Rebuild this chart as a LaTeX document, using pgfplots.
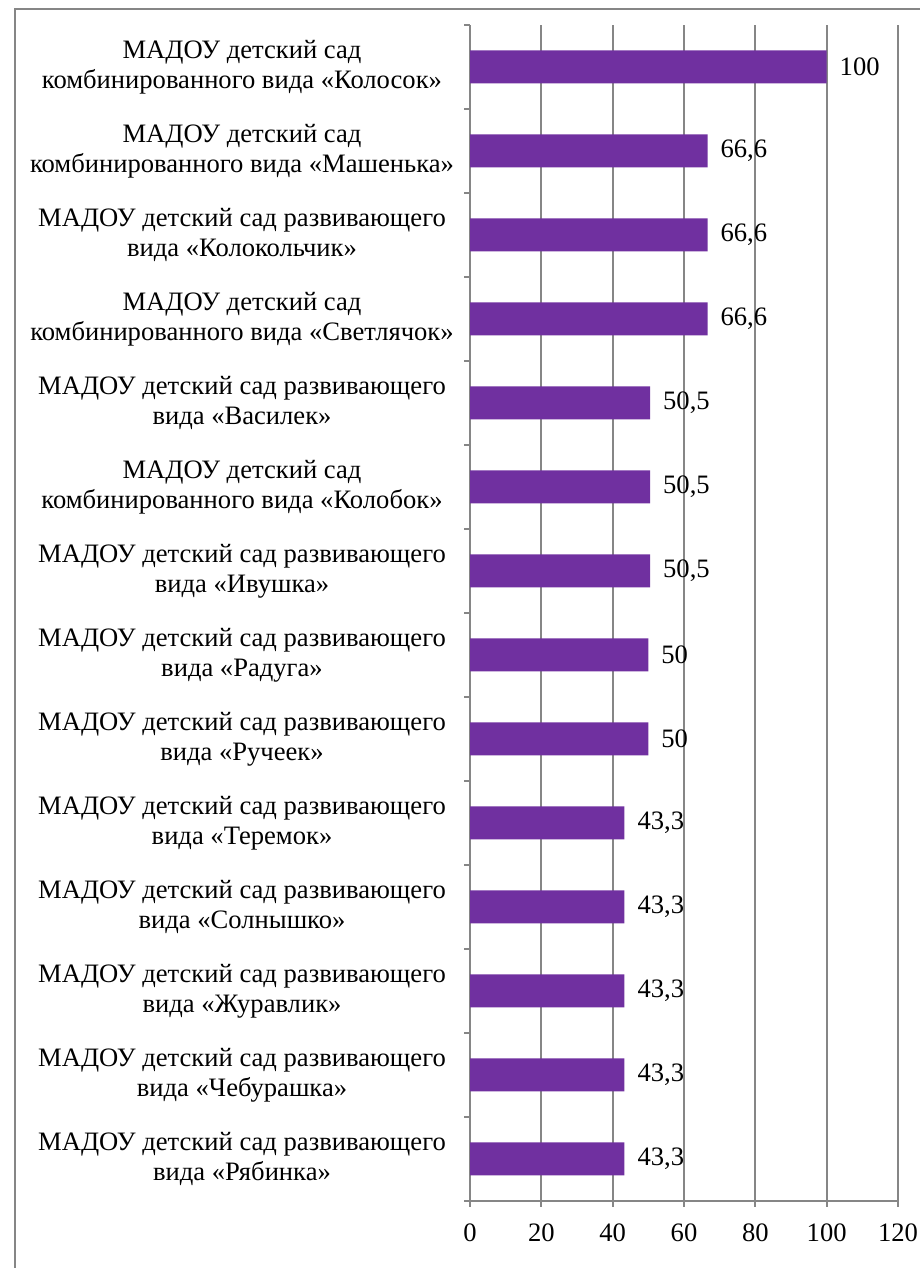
\documentclass[border=0pt]{standalone}
\usepackage{fontspec}
\setmainfont{Liberation Serif}
\usepackage{pgfplots}
\usepackage{pgfplotstable}
\pgfplotsset{compat=1.18}
\definecolor{barpurple}{HTML}{7030A0}
\definecolor{gridgray}{HTML}{868686}
\pgfplotstableread{
y x lab
0 43.3 43,3
1 43.3 43,3
2 43.3 43,3
3 43.3 43,3
4 43.3 43,3
5 50 50
6 50 50
7 50.5 50,5
8 50.5 50,5
9 50.5 50,5
10 66.6 66,6
11 66.6 66,6
12 66.6 66,6
13 100 100
}\datatable
\begin{document}
\begin{tikzpicture}
\useasboundingbox (0,0) rectangle (460pt,634pt);
\draw[gridgray, line width=0.9pt] (7.5pt,0) -- (7.5pt,629.5pt) -- (460pt,629.5pt);
\begin{axis}[
  at={(235pt,33.5pt)}, anchor=south west,
  scale only axis, width=214pt, height=588pt,
  xbar, bar width=16.5pt,
  xmin=0, xmax=120, ymin=-0.5, ymax=13.5,
  xtick={0,20,...,120},
  ytick={0,...,13},
  minor ytick={-0.5,0.5,...,13.5},
  yticklabels={
    {МАДОУ детский сад развивающего\\вида «Рябинка»},
    {МАДОУ детский сад развивающего\\вида «Чебурашка»},
    {МАДОУ детский сад развивающего\\вида «Журавлик»},
    {МАДОУ детский сад развивающего\\вида «Солнышко»},
    {МАДОУ детский сад развивающего\\вида «Теремок»},
    {МАДОУ детский сад развивающего\\вида «Ручеек»},
    {МАДОУ детский сад развивающего\\вида «Радуга»},
    {МАДОУ детский сад развивающего\\вида «Ивушка»},
    {МАДОУ детский сад\\комбинированного вида «Колобок»},
    {МАДОУ детский сад развивающего\\вида «Василек»},
    {МАДОУ детский сад\\комбинированного вида «Светлячок»},
    {МАДОУ детский сад развивающего\\вида «Колокольчик»},
    {МАДОУ детский сад\\комбинированного вида «Машенька»},
    {МАДОУ детский сад\\комбинированного вида «Колосок»}
  },
  axis x line*=bottom, axis y line*=left,
  axis line style={gridgray, line width=0.9pt, -},
  xmajorgrids,
  major x grid style={gridgray, line width=0.9pt},
  tick align=outside,
  major tick length=3pt, minor tick length=3pt,
  major x tick style={gridgray, line width=0.9pt},
  major y tick style={draw=none},
  minor y tick style={gridgray, line width=0.9pt},
  /pgf/number format/assume math mode=true,
  tick label style={font=\fontsize{13.3}{15.2}\selectfont, text=black},
  yticklabel style={align=center, anchor=center, xshift=-111pt},
  xticklabel style={anchor=north, yshift=-5pt},
  nodes near coords,
  point meta=explicit symbolic,
  nodes near coords style={font=\fontsize{13.3}{15.2}\selectfont, text=black, anchor=west, xshift=3pt},
]
\addplot[fill=barpurple, draw=none] table[x=x, y=y, meta=lab] {\datatable};
\end{axis}
\end{tikzpicture}
\end{document}
